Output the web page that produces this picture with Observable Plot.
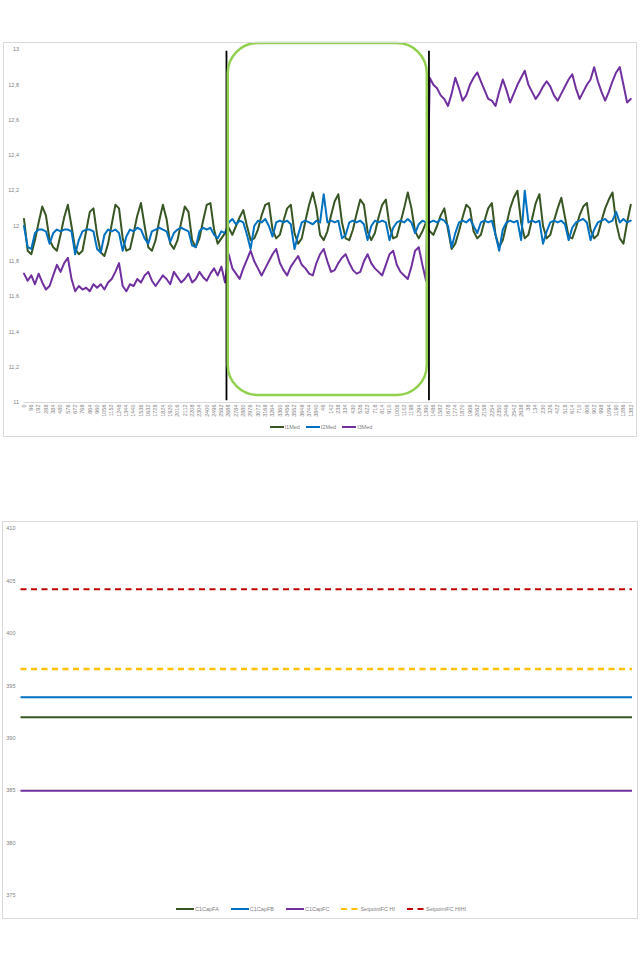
<!DOCTYPE html>
<html><head><meta charset="utf-8">
<script src="https://cdn.jsdelivr.net/npm/d3@7"></script>
<script src="https://cdn.jsdelivr.net/npm/@observablehq/plot@0.6"></script>
<style>
body{margin:0;background:#fff;font-family:"Liberation Sans",Arial,sans-serif;}
#page{position:relative;width:640px;height:960px;overflow:hidden;}
.box{position:absolute;border:1px solid #d9d9d9;box-sizing:border-box;pointer-events:none;}
.legend{position:absolute;left:0;width:640px;display:flex;justify-content:center;align-items:center;font-size:5.5px;color:#7f7f7f;white-space:nowrap;}
.legend .item{display:flex;align-items:center;}
.legend svg{display:block;margin-right:1px;}
</style></head><body><div id="page"></div>
<script>
// ---------- top chart data ----------
const SAMPLE_STEP = 48;   // categories between stored samples
const LABEL_EVERY = 96;   // categories between axis labels
const X_MAX = 7991;       // number of categories
const xTickLabels = [
  "0","96","192","288","384","480","576","672","768","864","960","1056","1152","1248","1344","1440",
  "1536","1632","1728","1824","1920","2016","2112","2208","2304","2400","2496","2592","2688","2784",
  "2880","2976","3072","3168","3264","3360","3456","3552","3648","3744","3840",
  "46","142","238","334","430","526","622","718","814","910","1006","1102","1198","1294","1390",
  "1486","1582","1678","1774","1870","1966","2062","2158","2254","2350","2446","2542","2638",
  "38","134","230","326","422","518","614","710","806","902","998","1094","1190","1286","1382"
];
const yTicksTop = [11, 11.2, 11.4, 11.6, 11.8, 12, 12.2, 12.4, 12.6, 12.8, 13];
const topSeriesNames = ["I1Med", "I2Med", "I3Med"];
const topSeriesColors = ["#375623", "#0070C0", "#7030A0"];

const i1Med = [
  12.04,11.86,11.84,11.92,12.02,12.11,12.06,11.92,11.88,11.86,
  11.95,12.05,12.12,12.00,11.87,11.84,11.86,11.97,12.08,12.10,
  11.95,11.85,11.83,11.90,12.01,12.12,12.10,11.93,11.86,11.87,
  11.96,12.06,12.13,12.00,11.88,11.86,11.92,12.03,12.12,12.04,
  11.90,11.87,11.92,12.02,12.11,12.08,11.92,11.88,11.93,12.03,
  12.12,12.13,11.98,11.90,11.93,11.96,
  11.99,11.95,12.00,12.05,12.09,12.00,11.92,11.93,11.98,12.06,
  12.12,12.13,11.98,11.93,11.95,12.03,12.10,12.12,11.96,11.90,
  11.93,12.03,12.12,12.19,12.10,11.95,11.92,11.97,12.06,12.14,
  12.18,12.02,11.93,11.92,11.98,12.07,12.15,12.12,11.97,11.92,
  11.96,12.05,12.12,12.15,12.00,11.93,11.94,12.02,12.10,12.19,
  12.10,11.97,11.93,11.97,12.02,
  11.97,11.95,12.00,12.06,12.10,11.98,11.87,11.90,11.97,12.05,
  12.12,12.10,11.97,11.93,11.95,12.03,12.10,12.13,11.95,11.88,
  11.92,12.01,12.10,12.16,12.20,12.02,11.93,11.95,12.04,12.13,
  12.18,12.00,11.93,11.95,12.03,12.10,12.16,12.05,11.94,11.93,
  11.99,12.06,12.11,12.13,11.98,11.93,11.95,12.03,12.10,12.15,
  12.19,12.02,11.93,11.90,12.02,12.12
];
const i2Med = [
  12.00,11.88,11.87,11.96,11.98,11.98,11.97,11.90,11.96,11.98,
  11.97,11.98,11.98,11.97,11.84,11.92,11.97,11.98,11.98,11.97,
  11.87,11.85,11.95,11.98,11.97,11.98,11.96,11.86,11.94,11.98,
  11.97,11.99,11.98,11.93,11.90,11.97,11.98,11.99,11.98,11.97,
  11.91,11.96,11.98,11.99,11.98,11.97,11.89,11.88,11.97,11.99,
  11.98,11.99,11.95,11.93,11.97,11.96,
  12.02,12.04,12.01,12.03,12.02,11.95,11.87,12.00,12.03,12.02,
  12.04,12.00,11.94,12.02,12.03,12.02,12.03,12.01,11.87,11.95,
  12.02,12.03,12.02,12.01,12.03,12.02,12.18,12.02,12.03,12.02,
  12.03,11.93,11.95,12.02,12.03,12.02,12.03,12.01,11.92,12.00,
  12.03,12.02,12.03,12.02,11.92,11.99,12.02,12.03,12.02,12.04,
  12.02,11.96,12.01,12.03,12.02,
  12.02,12.03,12.02,12.04,12.03,12.00,11.88,11.96,12.02,12.03,
  12.02,12.04,12.00,11.96,12.02,12.03,12.02,12.03,11.95,11.86,
  11.98,12.02,12.03,12.02,12.03,11.92,12.20,12.02,12.03,12.02,
  12.03,11.90,11.97,12.02,12.03,12.02,12.03,12.01,11.92,11.99,
  12.02,12.03,12.04,12.02,11.92,11.98,12.02,12.03,12.04,12.02,
  12.03,12.08,12.02,12.04,12.02,12.03
];
const i3Med = [
  11.73,11.69,11.72,11.67,11.73,11.68,11.64,11.66,11.72,11.78,
  11.74,11.79,11.82,11.70,11.63,11.66,11.64,11.65,11.63,11.67,
  11.65,11.67,11.64,11.68,11.70,11.74,11.79,11.66,11.63,11.67,
  11.66,11.70,11.68,11.72,11.74,11.69,11.66,11.69,11.72,11.70,
  11.67,11.74,11.71,11.68,11.70,11.73,11.68,11.70,11.74,11.71,
  11.69,11.73,11.76,11.72,11.77,11.68,
  11.84,11.76,11.73,11.70,11.76,11.81,11.86,11.80,11.76,11.72,
  11.76,11.80,11.84,11.87,11.79,11.75,11.72,11.77,11.80,11.83,
  11.78,11.76,11.73,11.72,11.79,11.84,11.87,11.80,11.74,11.75,
  11.79,11.82,11.84,11.79,11.75,11.73,11.74,11.80,11.84,11.79,
  11.76,11.74,11.72,11.78,11.84,11.86,11.78,11.74,11.72,11.70,
  11.77,11.86,11.88,11.78,11.69,
  12.84,12.80,12.78,12.74,12.72,12.68,12.75,12.84,12.78,12.71,
  12.74,12.80,12.84,12.87,12.82,12.77,12.72,12.71,12.68,12.76,
  12.83,12.77,12.70,12.75,12.80,12.84,12.88,12.80,12.76,12.72,
  12.75,12.79,12.82,12.79,12.74,12.71,12.75,12.79,12.83,12.86,
  12.78,12.72,12.76,12.80,12.83,12.90,12.82,12.76,12.71,12.76,
  12.82,12.87,12.90,12.80,12.70,12.72
];
// annotation: vertical markers and highlighted period (category / value units)
const markerCategories = [2659, 5318];
const markerValueRange = [11.01, 12.99];
const highlightBox = [{x1: 2682, x2: 5296, y1: 11.04, y2: 13.034}];

// ---------- bottom chart data ----------
const capSeriesNames = ["C1CapFA", "C1CapFB", "C1CapFC", "SetpointFC HI", "SetpointFC HIHI"];
const capSeriesValues = [392.0, 393.9, 385.0, 396.6, 404.2];
const capSeriesColors = ["#375623", "#0070C0", "#7030A0", "#FFC000", "#C00000"];
const capSeriesDash = [null, null, null, "6,4.5", "6,4.5"];
const yTicksBottom = [375, 380, 385, 390, 395, 400, 405, 410];

// ---------- build ----------
const page = document.getElementById("page");
const topSeries = [i1Med, i2Med, i3Med];
const axisStyle = {fontSize: "5.5px", fontFamily: "'Liberation Sans', Arial, sans-serif", color: "#7f7f7f", background: "transparent", overflow: "visible"};

const topPlot = Plot.plot({
  width: 640, height: 440,
  marginTop: 49, marginBottom: 38, marginLeft: 23.5, marginRight: 8,
  style: axisStyle,
  x: {domain: [0, X_MAX], label: null},
  y: {domain: [11, 13], label: null},
  marks: [
    Plot.ruleY([11], {stroke: "#d9d9d9", strokeWidth: 1}),
    ...topSeries.map((arr, s) => Plot.line(arr, {
      x: (d, i) => i * SAMPLE_STEP, y: d => d,
      stroke: topSeriesColors[s], strokeWidth: 2, strokeLinejoin: "round"
    })),
    Plot.ruleX(markerCategories, {y1: markerValueRange[0], y2: markerValueRange[1], stroke: "#000", strokeWidth: 1.8}),
    Plot.rect(highlightBox, {x1: "x1", x2: "x2", y1: "y1", y2: "y2", rx: 30, fill: "none", stroke: "#92D050", strokeWidth: 2.5}),
    Plot.axisY({ticks: yTicksTop, tickFormat: d => String(d).replace(".", ","), tickSize: 0, tickPadding: 5, label: null}),
    Plot.axisX({ticks: xTickLabels.map((_, k) => k * LABEL_EVERY), tickFormat: d => xTickLabels[Math.round(d / LABEL_EVERY)],
      tickRotate: -90, tickSize: 0, tickPadding: 2, label: null})
  ]
});
topPlot.style.position = "absolute"; topPlot.style.left = "0px"; topPlot.style.top = "0px";
page.appendChild(topPlot);

const botPlot = Plot.plot({
  width: 640, height: 420,
  marginTop: 28, marginBottom: 25, marginLeft: 20.5, marginRight: 8,
  style: axisStyle,
  y: {domain: [375, 410], label: null},
  marks: [
    ...capSeriesValues.map((v, s) => Plot.ruleY([v], {
      stroke: capSeriesColors[s], strokeWidth: s === 3 ? 2.4 : 2, strokeDasharray: capSeriesDash[s] || undefined
    })),
    Plot.axisY({ticks: yTicksBottom, tickSize: 0, tickPadding: 5.5, label: null})
  ]
});
botPlot.style.position = "absolute"; botPlot.style.left = "0px"; botPlot.style.top = "500px";
page.appendChild(botPlot);

function box(left, top, w, h) {
  const d = document.createElement("div");
  d.className = "box";
  Object.assign(d.style, {left: left + "px", top: top + "px", width: w + "px", height: h + "px"});
  page.appendChild(d);
}
box(3, 42, 634, 395);
box(2, 521, 636, 398);

function legend(names, colors, dashes, top, swatch, gap, shift) {
  const div = document.createElement("div");
  div.className = "legend";
  div.style.top = top + "px";
  div.style.gap = gap + "px";
  div.style.paddingLeft = shift + "px";
  div.style.boxSizing = "border-box";
  names.forEach((n, i) => {
    const it = document.createElement("div");
    it.className = "item";
    const ns = "http://www.w3.org/2000/svg";
    const s = document.createElementNS(ns, "svg");
    s.setAttribute("width", swatch); s.setAttribute("height", 6);
    const l = document.createElementNS(ns, "line");
    l.setAttribute("x1", 0); l.setAttribute("x2", swatch); l.setAttribute("y1", 3); l.setAttribute("y2", 3);
    l.setAttribute("stroke", colors[i]); l.setAttribute("stroke-width", 2);
    if (dashes && dashes[i]) l.setAttribute("stroke-dasharray", dashes[i]);
    s.appendChild(l);
    it.appendChild(s);
    const t = document.createElement("span");
    t.textContent = n;
    it.appendChild(t);
    div.appendChild(it);
  });
  page.appendChild(div);
}
legend(topSeriesNames, topSeriesColors, null, 424, 14, 6, 2);
legend(capSeriesNames, capSeriesColors, capSeriesDash, 906, 18, 12, 2);
</script>
</body></html>
